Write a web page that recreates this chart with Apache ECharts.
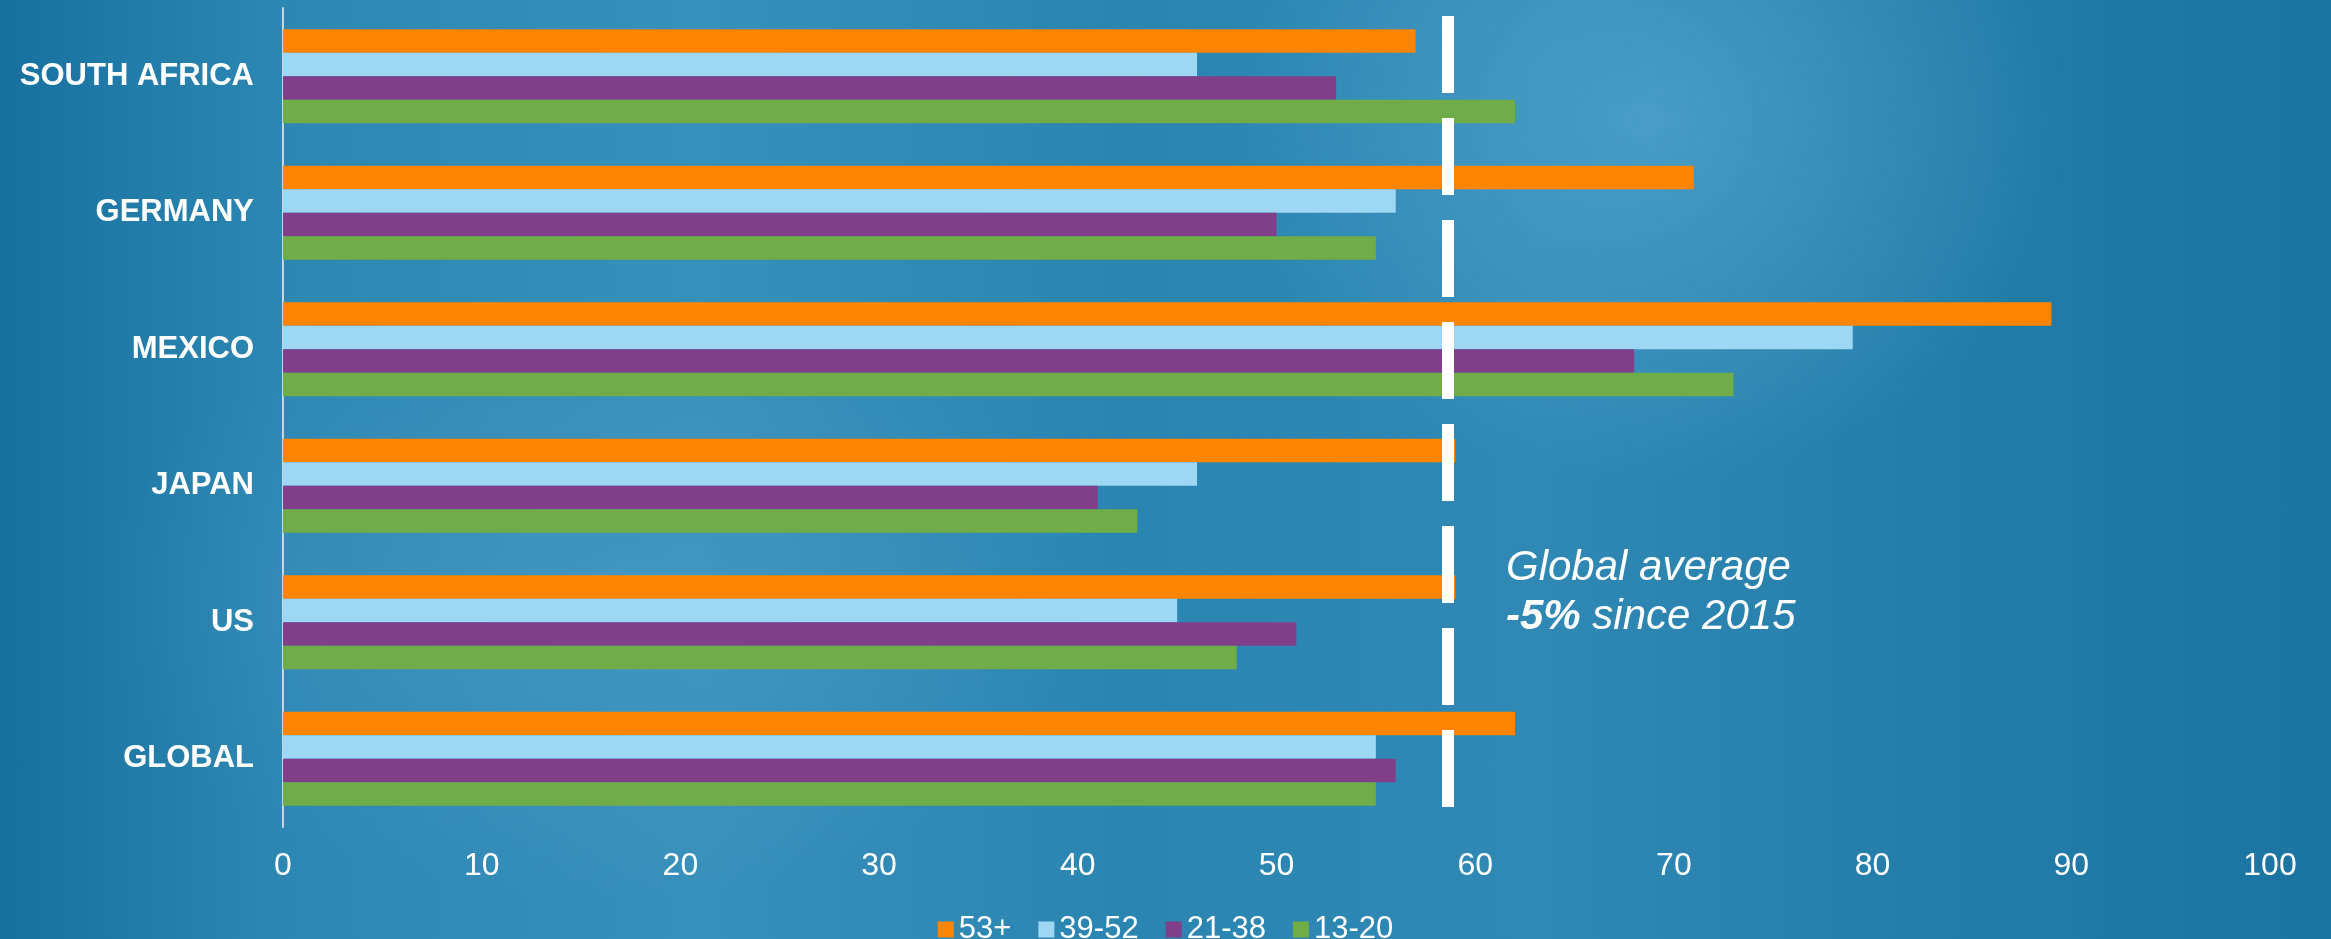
<!DOCTYPE html>
<html>
<head>
<meta charset="utf-8">
<title>Age groups by country</title>
<script src="https://cdn.jsdelivr.net/npm/echarts@6/dist/echarts.min.js"></script>
<style>
    html, body { margin: 0; padding: 0; }
    #chart {
        width: 2331px;
        height: 939px;
        background:
            radial-gradient(ellipse 420px 360px at 1650px 120px, rgba(95,175,215,0.55), rgba(95,175,215,0) 100%),
            radial-gradient(ellipse 500px 300px at 600px 600px, rgba(90,165,205,0.35), rgba(90,165,205,0) 100%),
            linear-gradient(90deg, #17709d 0%, #2d87b3 12%, #3790bb 30%, #2b85b1 48%, #3089b5 66%, #237ca8 85%, #1a74a1 100%);
    }
</style>
</head>
<body>
<div id="chart"></div>
<script>
    // categories, bottom to top (category axis starts at the bottom)
    var countries = ['GLOBAL', 'US', 'JAPAN', 'MEXICO', 'GERMANY', 'SOUTH AFRICA'];
    var ages = ['53+', '39-52', '21-38', '13-20'];
    var age53 = [62, 59, 59, 89, 71, 57];
    var age39 = [55, 45, 46, 79, 56, 46];
    var age21 = [56, 51, 41, 68, 50, 53];
    var age13 = [55, 48, 43, 73, 55, 62];
    var globalAvg = 58.6;
    var xTicks = [0, 100, 10];

    var colors = ['#ff8400', '#9ed7f4', '#813f8a', '#70ac47'];
    var font = '"Liberation Sans", Arial, sans-serif';

    var myChart = echarts.init(document.getElementById('chart'));

    function bar(name, values, withLine) {
        var s = {
            name: name,
            type: 'bar',
            data: values,
            barGap: '0%',
            barCategoryGap: '31%',
            itemStyle: { color: colors[ages.indexOf(name)] }
        };
        if (withLine) {
            // dashed global average line
            s.markLine = {
                silent: true,
                symbol: 'none',
                label: { show: false },
                lineStyle: { color: '#ffffff', width: 12, type: [77, 25], dashOffset: 82, opacity: 1 },
                data: [{ xAxis: globalAvg }],
                z: 10
            };
        }
        return s;
    }

    var option = {
        animation: false,
        color: colors,
        grid: { left: 283, right: 61, top: 8, bottom: 112, containLabel: false },
        legend: {
            data: ages,
            left: 'center',
            top: 909,
            itemWidth: 16,
            itemHeight: 16,
            itemGap: 27,
            icon: 'rect',
            textStyle: { color: '#ffffff', fontSize: 31, fontFamily: font }
        },
        xAxis: {
            type: 'value',
            min: xTicks[0],
            max: xTicks[1],
            interval: xTicks[2],
            axisLine: { show: false },
            axisTick: { show: false },
            splitLine: { show: false },
            axisLabel: { color: '#ffffff', fontSize: 32, fontFamily: font, margin: 23 }
        },
        yAxis: {
            type: 'category',
            data: countries,
            axisLine: { show: true, lineStyle: { color: '#c9d6df', width: 2 } },
            axisTick: { show: false },
            axisLabel: { color: '#ffffff', fontSize: 31, fontWeight: 'bold', fontFamily: font, margin: 29 }
        },
        graphic: [{
            type: 'text',
            left: 1506,
            top: 547,
            z: 20,
            style: {
                text: '{a|Global average}\n{b|-5%}{a| since 2015}',
                fill: '#ffffff',
                rich: {
                    a: { fontSize: 42, fontStyle: 'italic', fontFamily: font, fill: '#ffffff', lineHeight: 49 },
                    b: { fontSize: 42, fontStyle: 'italic', fontWeight: 'bold', fontFamily: font, fill: '#ffffff', lineHeight: 49 }
                }
            }
        }],
        series: [
            bar('53+', age53, true),
            bar('39-52', age39),
            bar('21-38', age21),
            bar('13-20', age13)
        ]
    };
    myChart.setOption(option);
</script>
</body>
</html>
